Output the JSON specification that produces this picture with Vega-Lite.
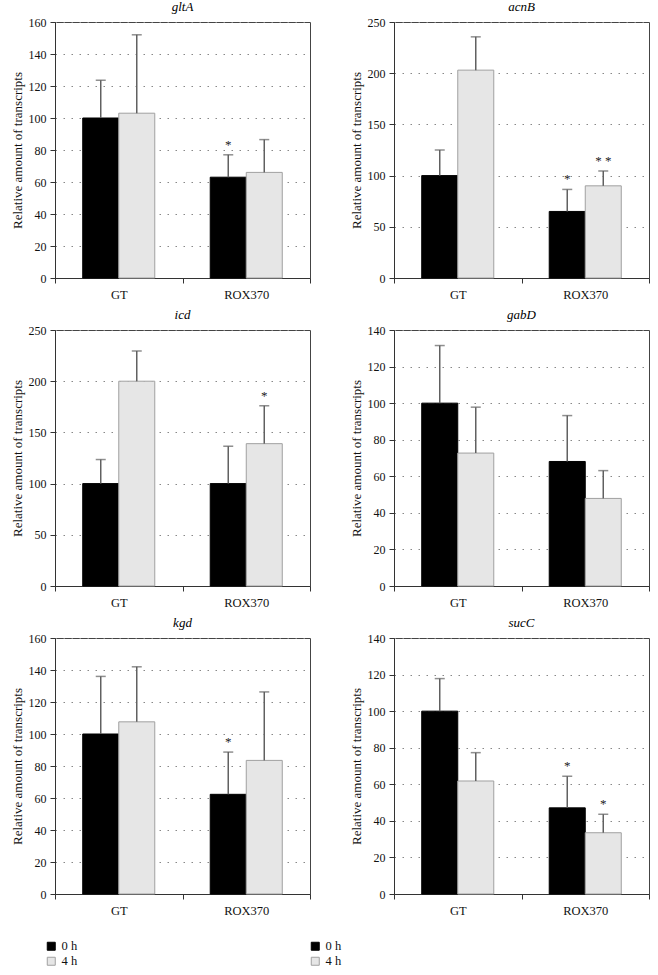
{
  "$schema": "https://vega.github.io/schema/vega-lite/v6.json",
  "background": "white",
  "padding": {"left": 10, "top": 0, "right": 8, "bottom": 5},
  "data": {
    "values": [
      {"gene": "gltA", "strain": "GT", "time": "0 h", "value": 100, "upper": 123.6, "sig": ""},
      {"gene": "gltA", "strain": "GT", "time": "4 h", "value": 103, "upper": 152, "sig": ""},
      {"gene": "gltA", "strain": "ROX370", "time": "0 h", "value": 63, "upper": 77, "sig": "*"},
      {"gene": "gltA", "strain": "ROX370", "time": "4 h", "value": 66, "upper": 86.5, "sig": ""},
      {"gene": "acnB", "strain": "GT", "time": "0 h", "value": 100, "upper": 125, "sig": ""},
      {"gene": "acnB", "strain": "GT", "time": "4 h", "value": 203, "upper": 235.5, "sig": ""},
      {"gene": "acnB", "strain": "ROX370", "time": "0 h", "value": 65, "upper": 86.5, "sig": "*"},
      {"gene": "acnB", "strain": "ROX370", "time": "4 h", "value": 90, "upper": 104.5, "sig": "* *"},
      {"gene": "icd", "strain": "GT", "time": "0 h", "value": 100, "upper": 123.5, "sig": ""},
      {"gene": "icd", "strain": "GT", "time": "4 h", "value": 200, "upper": 229.5, "sig": ""},
      {"gene": "icd", "strain": "ROX370", "time": "0 h", "value": 100, "upper": 136.5, "sig": ""},
      {"gene": "icd", "strain": "ROX370", "time": "4 h", "value": 139, "upper": 176, "sig": "*"},
      {"gene": "gabD", "strain": "GT", "time": "0 h", "value": 100, "upper": 131.5, "sig": ""},
      {"gene": "gabD", "strain": "GT", "time": "4 h", "value": 72.7, "upper": 97.8, "sig": ""},
      {"gene": "gabD", "strain": "ROX370", "time": "0 h", "value": 68.1, "upper": 93.2, "sig": ""},
      {"gene": "gabD", "strain": "ROX370", "time": "4 h", "value": 47.9, "upper": 63.1, "sig": ""},
      {"gene": "kgd", "strain": "GT", "time": "0 h", "value": 100, "upper": 136, "sig": ""},
      {"gene": "kgd", "strain": "GT", "time": "4 h", "value": 107.6, "upper": 142, "sig": ""},
      {"gene": "kgd", "strain": "ROX370", "time": "0 h", "value": 62.3, "upper": 88.7, "sig": "*"},
      {"gene": "kgd", "strain": "ROX370", "time": "4 h", "value": 83.5, "upper": 126.3, "sig": ""},
      {"gene": "sucC", "strain": "GT", "time": "0 h", "value": 100, "upper": 117.8, "sig": ""},
      {"gene": "sucC", "strain": "GT", "time": "4 h", "value": 61.8, "upper": 77.3, "sig": ""},
      {"gene": "sucC", "strain": "ROX370", "time": "0 h", "value": 47.1, "upper": 64.4, "sig": "*"},
      {"gene": "sucC", "strain": "ROX370", "time": "4 h", "value": 33.5, "upper": 43.6, "sig": "*"}
    ]
  },
  "columns": 2,
  "bounds": "flush",
  "spacing": {"row": 52, "column": 84},
  "resolve": {"legend": {"fill": "independent", "stroke": "independent"}},
  "concat": [
    {
      "title": "gltA",
      "width": 255,
      "height": 256,
      "transform": [{"filter": "datum.gene === 'gltA'"}],
      "encoding": {
        "x": {"field": "strain", "type": "nominal", "sort": ["GT", "ROX370"], "title": null},
        "xOffset": {"field": "time", "type": "nominal", "sort": ["0 h", "4 h"]}
      },
      "layer": [
        {
          "mark": "bar",
          "encoding": {
            "y": {"field": "value", "type": "quantitative", "title": "Relative amount of transcripts",
                  "scale": {"domain": [0, 160], "nice": false},
                  "axis": {"values": [0, 20, 40, 60, 80, 100, 120, 140, 160]}},
            "fill": {"field": "time", "type": "nominal", "scale": {"domain": ["0 h", "4 h"], "range": ["#000000", "#e6e6e6"]}, "legend": null},
            "stroke": {"field": "time", "type": "nominal", "scale": {"domain": ["0 h", "4 h"], "range": ["#000000", "#a0a0a0"]}, "legend": null}
          }
        },
        {"mark": "rule", "encoding": {"y": {"field": "value", "type": "quantitative", "title": "Relative amount of transcripts", "scale": {"domain": [0, 160], "nice": false}, "axis": {"values": [0, 20, 40, 60, 80, 100, 120, 140, 160]}}, "y2": {"field": "upper"}}},
        {"mark": "tick", "encoding": {"y": {"field": "upper", "type": "quantitative", "title": "Relative amount of transcripts", "scale": {"domain": [0, 160], "nice": false}, "axis": {"values": [0, 20, 40, 60, 80, 100, 120, 140, 160]}}}},
        {"mark": "text", "encoding": {"y": {"field": "upper", "type": "quantitative", "title": "Relative amount of transcripts", "scale": {"domain": [0, 160], "nice": false}, "axis": {"values": [0, 20, 40, 60, 80, 100, 120, 140, 160]}}, "text": {"field": "sig"}}}
      ]
    },
    {
      "title": "acnB",
      "width": 255,
      "height": 256,
      "transform": [{"filter": "datum.gene === 'acnB'"}],
      "encoding": {
        "x": {"field": "strain", "type": "nominal", "sort": ["GT", "ROX370"], "title": null},
        "xOffset": {"field": "time", "type": "nominal", "sort": ["0 h", "4 h"]}
      },
      "layer": [
        {
          "mark": "bar",
          "encoding": {
            "y": {"field": "value", "type": "quantitative", "title": "Relative amount of transcripts",
                  "scale": {"domain": [0, 250], "nice": false},
                  "axis": {"values": [0, 50, 100, 150, 200, 250]}},
            "fill": {"field": "time", "type": "nominal", "scale": {"domain": ["0 h", "4 h"], "range": ["#000000", "#e6e6e6"]}, "legend": null},
            "stroke": {"field": "time", "type": "nominal", "scale": {"domain": ["0 h", "4 h"], "range": ["#000000", "#a0a0a0"]}, "legend": null}
          }
        },
        {"mark": "rule", "encoding": {"y": {"field": "value", "type": "quantitative", "title": "Relative amount of transcripts", "scale": {"domain": [0, 250], "nice": false}, "axis": {"values": [0, 50, 100, 150, 200, 250]}}, "y2": {"field": "upper"}}},
        {"mark": "tick", "encoding": {"y": {"field": "upper", "type": "quantitative", "title": "Relative amount of transcripts", "scale": {"domain": [0, 250], "nice": false}, "axis": {"values": [0, 50, 100, 150, 200, 250]}}}},
        {"mark": "text", "encoding": {"y": {"field": "upper", "type": "quantitative", "title": "Relative amount of transcripts", "scale": {"domain": [0, 250], "nice": false}, "axis": {"values": [0, 50, 100, 150, 200, 250]}}, "text": {"field": "sig"}}}
      ]
    },
    {
      "title": "icd",
      "width": 255,
      "height": 256,
      "transform": [{"filter": "datum.gene === 'icd'"}],
      "encoding": {
        "x": {"field": "strain", "type": "nominal", "sort": ["GT", "ROX370"], "title": null},
        "xOffset": {"field": "time", "type": "nominal", "sort": ["0 h", "4 h"]}
      },
      "layer": [
        {
          "mark": "bar",
          "encoding": {
            "y": {"field": "value", "type": "quantitative", "title": "Relative amount of transcripts",
                  "scale": {"domain": [0, 250], "nice": false},
                  "axis": {"values": [0, 50, 100, 150, 200, 250]}},
            "fill": {"field": "time", "type": "nominal", "scale": {"domain": ["0 h", "4 h"], "range": ["#000000", "#e6e6e6"]}, "legend": null},
            "stroke": {"field": "time", "type": "nominal", "scale": {"domain": ["0 h", "4 h"], "range": ["#000000", "#a0a0a0"]}, "legend": null}
          }
        },
        {"mark": "rule", "encoding": {"y": {"field": "value", "type": "quantitative", "title": "Relative amount of transcripts", "scale": {"domain": [0, 250], "nice": false}, "axis": {"values": [0, 50, 100, 150, 200, 250]}}, "y2": {"field": "upper"}}},
        {"mark": "tick", "encoding": {"y": {"field": "upper", "type": "quantitative", "title": "Relative amount of transcripts", "scale": {"domain": [0, 250], "nice": false}, "axis": {"values": [0, 50, 100, 150, 200, 250]}}}},
        {"mark": "text", "encoding": {"y": {"field": "upper", "type": "quantitative", "title": "Relative amount of transcripts", "scale": {"domain": [0, 250], "nice": false}, "axis": {"values": [0, 50, 100, 150, 200, 250]}}, "text": {"field": "sig"}}}
      ]
    },
    {
      "title": "gabD",
      "width": 255,
      "height": 256,
      "transform": [{"filter": "datum.gene === 'gabD'"}],
      "encoding": {
        "x": {"field": "strain", "type": "nominal", "sort": ["GT", "ROX370"], "title": null},
        "xOffset": {"field": "time", "type": "nominal", "sort": ["0 h", "4 h"]}
      },
      "layer": [
        {
          "mark": "bar",
          "encoding": {
            "y": {"field": "value", "type": "quantitative", "title": "Relative amount of transcripts",
                  "scale": {"domain": [0, 140], "nice": false},
                  "axis": {"values": [0, 20, 40, 60, 80, 100, 120, 140]}},
            "fill": {"field": "time", "type": "nominal", "scale": {"domain": ["0 h", "4 h"], "range": ["#000000", "#e6e6e6"]}, "legend": null},
            "stroke": {"field": "time", "type": "nominal", "scale": {"domain": ["0 h", "4 h"], "range": ["#000000", "#a0a0a0"]}, "legend": null}
          }
        },
        {"mark": "rule", "encoding": {"y": {"field": "value", "type": "quantitative", "title": "Relative amount of transcripts", "scale": {"domain": [0, 140], "nice": false}, "axis": {"values": [0, 20, 40, 60, 80, 100, 120, 140]}}, "y2": {"field": "upper"}}},
        {"mark": "tick", "encoding": {"y": {"field": "upper", "type": "quantitative", "title": "Relative amount of transcripts", "scale": {"domain": [0, 140], "nice": false}, "axis": {"values": [0, 20, 40, 60, 80, 100, 120, 140]}}}},
        {"mark": "text", "encoding": {"y": {"field": "upper", "type": "quantitative", "title": "Relative amount of transcripts", "scale": {"domain": [0, 140], "nice": false}, "axis": {"values": [0, 20, 40, 60, 80, 100, 120, 140]}}, "text": {"field": "sig"}}}
      ]
    },
    {
      "title": "kgd",
      "width": 255,
      "height": 256,
      "transform": [{"filter": "datum.gene === 'kgd'"}],
      "encoding": {
        "x": {"field": "strain", "type": "nominal", "sort": ["GT", "ROX370"], "title": null},
        "xOffset": {"field": "time", "type": "nominal", "sort": ["0 h", "4 h"]}
      },
      "layer": [
        {
          "mark": "bar",
          "encoding": {
            "y": {"field": "value", "type": "quantitative", "title": "Relative amount of transcripts",
                  "scale": {"domain": [0, 160], "nice": false},
                  "axis": {"values": [0, 20, 40, 60, 80, 100, 120, 140, 160]}},
            "fill": {"field": "time", "type": "nominal", "scale": {"domain": ["0 h", "4 h"], "range": ["#000000", "#e6e6e6"]},
                     "legend": {"orient": "none", "legendX": -10, "legendY": 302}},
            "stroke": {"field": "time", "type": "nominal", "scale": {"domain": ["0 h", "4 h"], "range": ["#000000", "#a0a0a0"]},
                       "legend": {"orient": "none", "legendX": -10, "legendY": 302}}
          }
        },
        {"mark": "rule", "encoding": {"y": {"field": "value", "type": "quantitative", "title": "Relative amount of transcripts", "scale": {"domain": [0, 160], "nice": false}, "axis": {"values": [0, 20, 40, 60, 80, 100, 120, 140, 160]}}, "y2": {"field": "upper"}}},
        {"mark": "tick", "encoding": {"y": {"field": "upper", "type": "quantitative", "title": "Relative amount of transcripts", "scale": {"domain": [0, 160], "nice": false}, "axis": {"values": [0, 20, 40, 60, 80, 100, 120, 140, 160]}}}},
        {"mark": "text", "encoding": {"y": {"field": "upper", "type": "quantitative", "title": "Relative amount of transcripts", "scale": {"domain": [0, 160], "nice": false}, "axis": {"values": [0, 20, 40, 60, 80, 100, 120, 140, 160]}}, "text": {"field": "sig"}}}
      ]
    },
    {
      "title": "sucC",
      "width": 255,
      "height": 256,
      "transform": [{"filter": "datum.gene === 'sucC'"}],
      "encoding": {
        "x": {"field": "strain", "type": "nominal", "sort": ["GT", "ROX370"], "title": null},
        "xOffset": {"field": "time", "type": "nominal", "sort": ["0 h", "4 h"]}
      },
      "layer": [
        {
          "mark": "bar",
          "encoding": {
            "y": {"field": "value", "type": "quantitative", "title": "Relative amount of transcripts",
                  "scale": {"domain": [0, 140], "nice": false},
                  "axis": {"values": [0, 20, 40, 60, 80, 100, 120, 140]}},
            "fill": {"field": "time", "type": "nominal", "scale": {"domain": ["0 h", "4 h"], "range": ["#000000", "#e6e6e6"]},
                     "legend": {"orient": "none", "legendX": -85, "legendY": 302}},
            "stroke": {"field": "time", "type": "nominal", "scale": {"domain": ["0 h", "4 h"], "range": ["#000000", "#a0a0a0"]},
                       "legend": {"orient": "none", "legendX": -85, "legendY": 302}}
          }
        },
        {"mark": "rule", "encoding": {"y": {"field": "value", "type": "quantitative", "title": "Relative amount of transcripts", "scale": {"domain": [0, 140], "nice": false}, "axis": {"values": [0, 20, 40, 60, 80, 100, 120, 140]}}, "y2": {"field": "upper"}}},
        {"mark": "tick", "encoding": {"y": {"field": "upper", "type": "quantitative", "title": "Relative amount of transcripts", "scale": {"domain": [0, 140], "nice": false}, "axis": {"values": [0, 20, 40, 60, 80, 100, 120, 140]}}}},
        {"mark": "text", "encoding": {"y": {"field": "upper", "type": "quantitative", "title": "Relative amount of transcripts", "scale": {"domain": [0, 140], "nice": false}, "axis": {"values": [0, 20, 40, 60, 80, 100, 120, 140]}}, "text": {"field": "sig"}}}
      ]
    }
  ],
  "config": {
    "font": "Liberation Serif",
    "view": {"stroke": "#444444", "strokeWidth": 1},
    "title": {"font": "Liberation Serif", "fontSize": 13, "fontStyle": "italic", "fontWeight": "normal", "color": "#000000", "offset": 2, "frame": "group", "anchor": "middle"},
    "axis": {
      "labelFont": "Liberation Serif", "titleFont": "Liberation Serif",
      "labelFontSize": 12, "titleFontSize": 13, "titleFontWeight": "normal",
      "labelColor": "#111111", "titleColor": "#111111",
      "domainColor": "#333333", "tickColor": "#333333", "tickSize": 5,
      "labelPadding": 4, "titlePadding": 4, "grid": false, "labelOverlap": false
    },
    "axisY": {"grid": true, "gridDash": [1.5, 6.5], "gridColor": "#888888", "gridWidth": 1},
    "axisX": {"labelAngle": 0, "labelFontSize": 12.5, "tickBand": "extent", "labelPadding": 5},
    "scale": {
      "bandPaddingInner": 0, "bandPaddingOuter": 0,
      "bandWithNestedOffsetPaddingInner": 0, "bandWithNestedOffsetPaddingOuter": 0,
      "offsetBandPaddingInner": 0, "offsetBandPaddingOuter": 0.77
    },
    "bar": {"strokeWidth": 1},
    "rule": {"color": "#606060", "strokeWidth": 1.5},
    "tick": {"color": "#606060", "thickness": 1.5, "size": 10, "bandSize": 10},
    "text": {"font": "Liberation Serif", "fontSize": 13, "baseline": "bottom", "dy": -3, "fill": "#222222"},
    "legend": {
      "title": null, "direction": "vertical", "symbolType": "square", "symbolSize": 64,
      "symbolStrokeWidth": 1, "labelFont": "Liberation Serif", "labelFontSize": 12.5,
      "labelColor": "#111111", "labelOffset": 4, "rowPadding": 2, "padding": 0
    }
  }
}
